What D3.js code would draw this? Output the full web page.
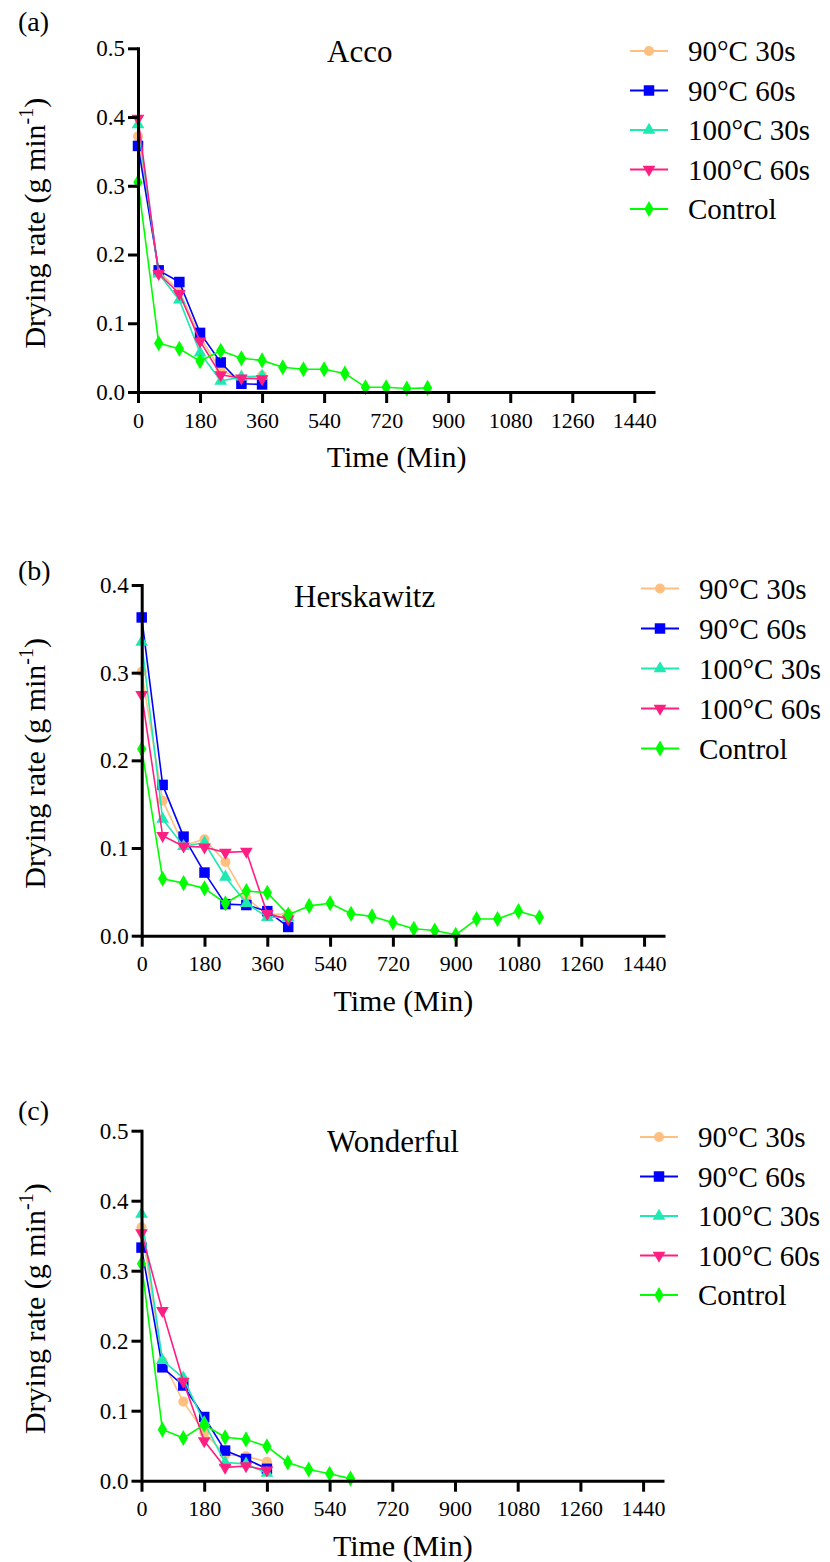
<!DOCTYPE html>
<html>
<head>
<meta charset="utf-8">
<script src="https://cdn.jsdelivr.net/npm/d3@7"></script>
<style>
  html, body { margin: 0; padding: 0; background: #fff; }
  svg { display: block; }
  text { font-family: "Liberation Serif", "Times New Roman", serif; fill: #000; }
</style>
</head>
<body>
<svg id="chart" width="830" height="1562"></svg>
<script>
// ---------------- DATA ----------------
const seriesNames = ["90°C 30s", "90°C 60s", "100°C 30s", "100°C 60s", "Control"];
const xTickValues = [0, 180, 360, 540, 720, 900, 1080, 1260, 1440];
const yTicksAB = [0.0, 0.1, 0.2, 0.3, 0.4, 0.5];
const yTicksB = [0.0, 0.1, 0.2, 0.3, 0.4];

// (a) Acco
const accoTime = [0, 60, 120, 180, 240, 300, 360];
const acco90_30 = [0.372, 0.175, 0.147, 0.080, 0.032, 0.018, 0.024];
const acco90_60 = [0.358, 0.177, 0.160, 0.086, 0.043, 0.012, 0.011];
const acco100_30 = [0.389, 0.172, 0.134, 0.057, 0.016, 0.022, 0.023];
const acco100_60 = [0.398, 0.172, 0.143, 0.074, 0.025, 0.020, 0.019];
const accoCtrlTime = [0, 60, 120, 180, 240, 300, 360, 420, 480, 540, 600, 660, 720, 780, 840];
const accoCtrl = [0.305, 0.071, 0.063, 0.045, 0.060, 0.049, 0.046, 0.036, 0.033, 0.033, 0.027, 0.007, 0.007, 0.005, 0.006];

// (b) Herskawitz
const hersTime = [0, 60, 120, 180, 240, 300, 360, 420];
const hers90_30 = [0.301, 0.154, 0.103, 0.110, 0.084, 0.043, 0.024, 0.025];
const hers90_60 = [0.363, 0.172, 0.113, 0.072, 0.036, 0.035, 0.028, 0.010];
const hers100_30 = [0.335, 0.133, 0.102, 0.106, 0.067, 0.037, 0.021, 0.021];
const hers100_60 = [0.275, 0.114, 0.102, 0.101, 0.095, 0.096, 0.025, 0.019];
const hersCtrlTime = [0, 60, 120, 180, 240, 300, 360, 420, 480, 540, 600, 660, 720, 780, 840, 900, 960, 1020, 1080, 1140];
const hersCtrl = [0.213, 0.065, 0.060, 0.054, 0.037, 0.051, 0.049, 0.024, 0.034, 0.037, 0.025, 0.022, 0.015, 0.008, 0.006, 0.001, 0.019, 0.019, 0.028, 0.021];

// (c) Wonderful
const wondTime = [0, 60, 120, 180, 240, 300, 360];
const wond90_30 = [0.362, 0.171, 0.113, 0.069, 0.037, 0.035, 0.027];
const wond90_60 = [0.333, 0.162, 0.136, 0.091, 0.043, 0.031, 0.017];
const wond100_30 = [0.381, 0.172, 0.147, 0.083, 0.026, 0.024, 0.011];
const wond100_60 = [0.354, 0.243, 0.142, 0.057, 0.019, 0.021, 0.015];
const wondCtrlTime = [0, 60, 120, 180, 240, 300, 360, 420, 480, 540, 600];
const wondCtrl = [0.310, 0.073, 0.061, 0.080, 0.062, 0.059, 0.049, 0.026, 0.016, 0.010, 0.003];

// ---------------- STYLE / LAYOUT ----------------
const colors = ["#FFBF80", "#0000FF", "#1DE9B0", "#FF1E82", "#00FF00"];
const symbols = [
  {type: d3.symbolCircle, size: 80, rot: 0},
  {type: d3.symbolSquare, size: 110, rot: 0},
  {type: d3.symbolTriangle, size: 70, rot: 0},
  {type: d3.symbolTriangle, size: 70, rot: 180},
  {type: d3.symbolDiamond, size: 75, rot: 0}
];

const panels = [
  {
    letter: "(a)", title: "Acco", yMax: 0.5, yTicks: yTicksAB,
    x0: 138, x1: 655, yTop: 48.3, yBot: 392,
    letterPos: [18, 31], titlePos: [327, 62],
    legend: {lx1: 630, lx2: 668, tx: 688, y0: 51, dy: 39.5},
    series: [
      [accoTime, acco90_30], [accoTime, acco90_60], [accoTime, acco100_30],
      [accoTime, acco100_60], [accoCtrlTime, accoCtrl]
    ]
  },
  {
    letter: "(b)", title: "Herskawitz", yMax: 0.4, yTicks: yTicksB,
    x0: 141.7, x1: 665, yTop: 585, yBot: 935.7,
    letterPos: [18, 580], titlePos: [294, 607],
    legend: {lx1: 641, lx2: 679, tx: 699, y0: 588.5, dy: 40},
    series: [
      [hersTime, hers90_30], [hersTime, hers90_60], [hersTime, hers100_30],
      [hersTime, hers100_60], [hersCtrlTime, hersCtrl]
    ]
  },
  {
    letter: "(c)", title: "Wonderful", yMax: 0.5, yTicks: yTicksAB,
    x0: 141.5, x1: 664, yTop: 1130.7, yBot: 1480.7,
    letterPos: [18, 1120], titlePos: [327, 1152],
    legend: {lx1: 640, lx2: 678, tx: 698, y0: 1137, dy: 39.5},
    series: [
      [wondTime, wond90_30], [wondTime, wond90_60], [wondTime, wond100_30],
      [wondTime, wond100_60], [wondCtrlTime, wondCtrl]
    ]
  }
];

const svg = d3.select("#chart");
svg.append("rect").attr("width", 830).attr("height", 1562).attr("fill", "#fff");

function symbolPath(i) {
  return d3.symbol().type(symbols[i].type).size(symbols[i].size)();
}

panels.forEach(p => {
  const g = svg.append("g");
  const x = d3.scaleLinear().domain([0, 1500]).range([p.x0, p.x1]);
  const y = d3.scaleLinear().domain([0, p.yMax]).range([p.yBot, p.yTop]);

  // data series
  p.series.forEach((s, i) => {
    const pts = s[0].map((t, k) => [t, s[1][k]]);
    const line = d3.line().x(d => x(d[0])).y(d => y(d[1]));
    g.append("path").datum(pts)
      .attr("d", line)
      .attr("fill", "none")
      .attr("stroke", colors[i])
      .attr("stroke-width", 1.6)
      .attr("stroke-linejoin", "round");
    g.selectAll(null).data(pts).enter().append("path")
      .attr("d", symbolPath(i))
      .attr("transform", d => `translate(${x(d[0])},${y(d[1])}) rotate(${symbols[i].rot})`)
      .attr("fill", colors[i]);
  });

  // axes
  const xAxis = d3.axisBottom(x).tickValues(xTickValues).tickSize(11).tickSizeOuter(0).tickPadding(9)
    .tickFormat(d3.format("d"));
  const gx = g.append("g").attr("transform", `translate(0,${p.yBot})`).call(xAxis);
  gx.select(".domain").attr("stroke", "#000").attr("stroke-width", 3);
  gx.selectAll(".tick line").attr("stroke", "#000").attr("stroke-width", 3);
  gx.selectAll(".tick text").attr("font-size", 22).attr("font-family", "Liberation Serif");

  const yAxis = d3.axisLeft(y).tickValues(p.yTicks).tickSize(10).tickSizeOuter(0).tickPadding(3)
    .tickFormat(d3.format(".1f"));
  const gy = g.append("g").attr("transform", `translate(${p.x0},0)`).call(yAxis);
  gy.select(".domain").attr("stroke", "#000").attr("stroke-width", 3).attr("stroke-linecap", "square");
  gy.selectAll(".tick line").attr("stroke", "#000").attr("stroke-width", 3);
  gy.selectAll(".tick text").attr("font-size", 23).attr("font-family", "Liberation Serif");

  // axis titles
  g.append("text")
    .attr("x", (p.x0 + p.x1) / 2).attr("y", p.yBot + 75)
    .attr("text-anchor", "middle").attr("font-size", 30)
    .text("Time (Min)");

  const yl = g.append("text")
    .attr("transform", `translate(45,${(p.yTop + p.yBot) / 2 + 3}) rotate(-90)`)
    .attr("text-anchor", "middle").attr("font-size", 30);
  yl.append("tspan").text("Drying rate (g min");
  yl.append("tspan").attr("font-size", 20).attr("dy", -12).text("-1");
  yl.append("tspan").attr("dy", 12).text(")");

  // panel letter & title
  g.append("text").attr("x", p.letterPos[0]).attr("y", p.letterPos[1])
    .attr("font-size", 28).text(p.letter);
  g.append("text").attr("x", p.titlePos[0]).attr("y", p.titlePos[1])
    .attr("font-size", 31).text(p.title);

  // legend
  const L = p.legend;
  seriesNames.forEach((name, i) => {
    const yy = L.y0 + i * L.dy;
    g.append("line").attr("x1", L.lx1).attr("x2", L.lx2).attr("y1", yy).attr("y2", yy)
      .attr("stroke", colors[i]).attr("stroke-width", 2);
    g.append("path").attr("d", symbolPath(i))
      .attr("transform", `translate(${(L.lx1 + L.lx2) / 2},${yy}) rotate(${symbols[i].rot})`)
      .attr("fill", colors[i]);
    g.append("text").attr("x", L.tx).attr("y", yy + 10)
      .attr("font-size", 29).text(name);
  });
});
</script>
</body>
</html>
